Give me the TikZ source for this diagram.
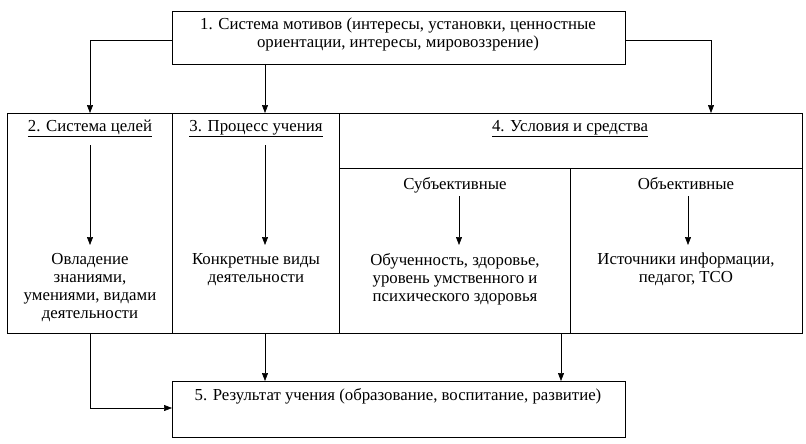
\documentclass[tikz,border=0pt]{standalone}
\usepackage{fontspec}
\setmainfont{Liberation Serif}
\usetikzlibrary{arrows.meta}
\begin{document}
\begin{tikzpicture}[x=1pt,y=-1pt,
  txt/.style={align=center,font=\fontsize{16.8}{18}\selectfont,inner sep=0pt,anchor=north},
  arr/.style={-{Triangle[length=8pt,width=6pt]},line width=0.6pt},
  ln/.style={line width=0.6pt}]
\useasboundingbox (0,0) rectangle (806,444);
\draw[ln] (172,11) rectangle (625,64);
\node[txt] (t1) at (398,18) {1. Система мотивов (интересы, установки, ценностные\\ориентации, интересы, мировоззрение)};
\draw[ln] (7,113) rectangle (802,333);
\draw[ln] (172,113)--(172,333) (339,113)--(339,333) (570,168)--(570,333) (339,168)--(802,168);
\node[txt] (h2) at (90,120) {\underline{2. Система целей}};
\node[txt] (h3) at (256,120) {\underline{3. Процесс учения}};
\node[txt] (h4) at (570,120) {\underline{4. Условия и средства}};
\node[txt] (s) at (455,177) {Субъективные};
\node[txt] (o) at (686,177) {Объективные};
\node[txt] (c2) at (90,253) {Овладение\\знаниями,\\умениями, видами\\деятельности};
\node[txt] (c3) at (256,253) {Конкретные виды\\деятельности};
\node[txt] (c4) at (455,253) {Обученность, здоровье,\\уровень умственного и\\психического здоровья};
\node[txt] (c5) at (686,253) {Источники информации,\\педагог, ТСО};
\draw[ln] (172,381) rectangle (625,437);
\node[txt] (t5) at (398,388) {5. Результат учения (образование, воспитание, развитие)};
\coordinate (a1) at (90,113);
\draw[arr] (172,40) -| (a1);
\draw[arr] (265,64) -- (265,113);
\draw[arr] (625,40) -| (711,113);
\draw[arr] (90,145) -- (90,245);
\draw[arr] (265,145) -- (265,245);
\draw[arr] (459,196) -- (459,245);
\draw[arr] (688,196) -- (688,245);
\draw[arr] (265,333) -- (265,381);
\draw[arr] (561,333) -- (561,381);
\draw[arr] (90,333) |- (172,408);
\end{tikzpicture}
\end{document}
